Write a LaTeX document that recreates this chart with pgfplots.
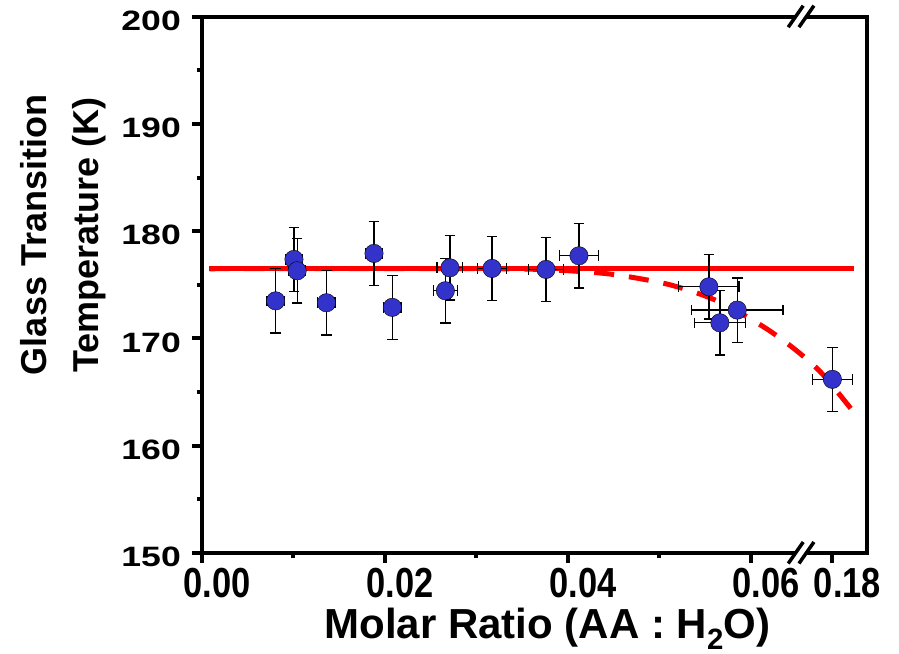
\documentclass[border=0pt]{standalone}
\usepackage{graphicx}
\usepackage{fontspec}
\setmainfont{Liberation Sans}
\usepackage{pgfplots}
\pgfplotsset{compat=1.18}
\usepackage{pgfplotstable}
\definecolor{ptblue}{RGB}{51,51,204}
\newcommand{\ytl}[1]{\scalebox{1.27}[1]{#1}}
\newcommand{\xtl}[1]{\scalebox{0.82}[1]{#1}}
% x for the point at 0.18 is drawn at 0.0689 on the broken axis
\pgfplotstableread{
x y xerr yerr
0.00805 173.51 0.00095 3
0.01005 177.37 0.00095 3
0.0104 176.31 0.00095 3
0.0136 173.33 0.00095 3
0.0188 177.93 0.00095 3
0.0208 172.90 0.00095 3
0.0266 174.45 0.00133 3
0.0271 176.59 0.0014 3
0.0317 176.53 0.00156 3
0.0376 176.44 0.0019 3
0.0412 177.71 0.0021 3
0.0554 174.82 0.0033 3
0.0566 171.46 0.0028 3
0.0585 172.65 0.005 3
0.0689 166.19 0.0022 3
}\datatable
\begin{document}
\begin{tikzpicture}
\path[use as bounding box] (-202bp,-101bp) rectangle (697bp,553bp);
\begin{axis}[
 scale only axis, width=665bp, height=536.3bp,
 xmin=0, xmax=0.07268, ymin=150, ymax=200,
 scaled x ticks=false, scaled y ticks=false,
 axis line style={line width=4bp},
 tick style={black, line width=4bp},
 major tick length=10bp, minor tick length=5bp,
 tick align=outside, tick pos=left,
 xtick={0,0.02,0.04,0.06,0.0689},
 xticklabels={\xtl{0.00},\xtl{0.02},\xtl{0.04},\xtl{0.06},\xtl{0.18}},
 minor xtick={0.01,0.03,0.05},
 ytick={150,160,170,180,190,200},
 yticklabels={\ytl{150},\ytl{160},\ytl{170},\ytl{180},\ytl{190},\ytl{200}},
 minor ytick={155,165,175,185,195},
 xticklabel style={font=\fontsize{42bp}{50bp}\selectfont\bfseries, inner sep=0pt, anchor=north, xshift=15bp, yshift=-5bp},
 yticklabel style={font=\fontsize{28bp}{34bp}\selectfont\bfseries, inner sep=0pt, anchor=east, xshift=-11bp, yshift=-4bp},
 xlabel={Molar Ratio (AA : H\textsubscript{2}O)},
 xlabel style={font=\fontsize{42bp}{50bp}\selectfont\bfseries, at={(axis description cs:0.5195,-0.1585)}, anchor=base, inner sep=0pt},
 ylabel={Glass Transition\\Temperature (K)},
 ylabel style={font=\fontsize{36bp}{52bp}\selectfont\bfseries, align=center, at={(axis description cs:-0.209,0.593)}, anchor=center, inner sep=0pt},
]
\addplot[red, line width=5bp, dash pattern=on 20bp off 15bp, smooth] coordinates {
(0.0008,176.50) (0.0200,176.52) (0.03475,176.48) (0.0413,176.25) (0.04546,175.91) (0.0506,175.12) (0.05443,174.14) (0.05749,173.02) (0.06175,170.88) (0.06503,168.83) (0.06776,166.73) (0.07104,163.33)};
\addplot[red, line width=5bp] coordinates {(0.0008,176.55) (0.0713,176.55)};
\addplot[draw=none, mark=none, error bars/.cd, x dir=both, x explicit, y dir=both, y explicit,
 error bar style={draw=black, line width=1.3bp, solid},
 error mark options={rotate=90, mark size=5.3bp, line width=1.3bp, black}]
 table[x=x, y=y, x error=xerr, y error=yerr] {\datatable};
\addplot[only marks, mark=*, mark size=9.2bp, mark options={draw=none, fill=ptblue}] table[x=x, y=y] {\datatable};
\coordinate (brkb) at (axis cs:0.06546,150);
\coordinate (brkt) at (axis cs:0.06546,200);
\end{axis}
\foreach \c in {brkb,brkt}{
\begin{scope}[shift={(\c)}]
\fill[white] (-5.5bp,-3bp) rectangle (5.3bp,3bp);
\draw[line width=3.5bp] (-12.7bp,-10.5bp) -- (2.3bp,11bp);
\draw[line width=3.5bp] (-2bp,-10.5bp) -- (13bp,11bp);
\end{scope}}
\end{tikzpicture}
\end{document}
